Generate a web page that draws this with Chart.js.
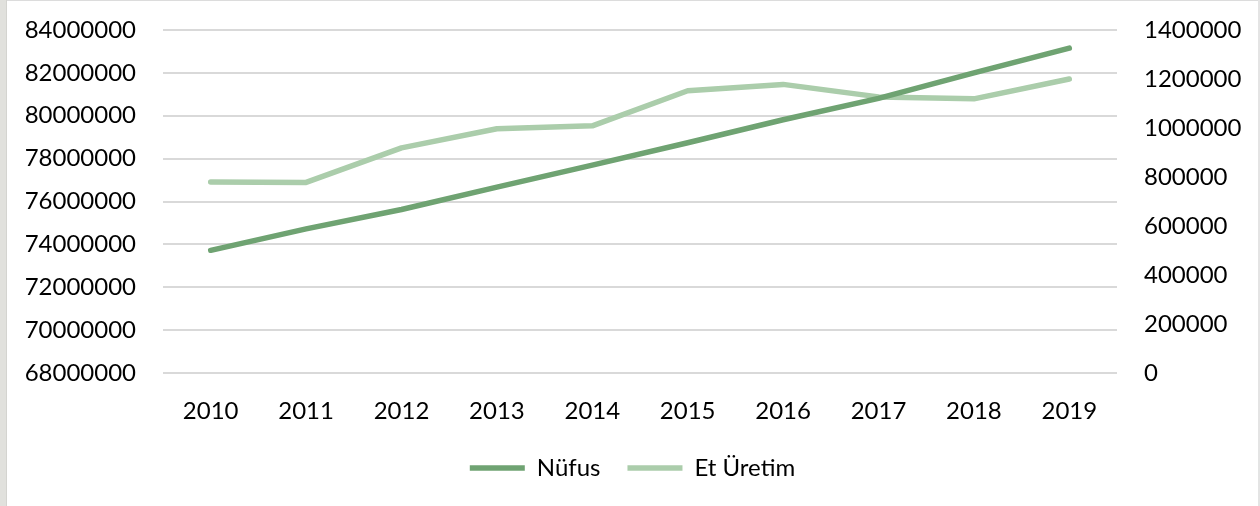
<!DOCTYPE html>
<html>
<head>
<meta charset="utf-8">
<script src="https://cdn.jsdelivr.net/npm/chart.js@4"></script>
<style>
html,body{margin:0;padding:0;background:#fff;}
body{width:1260px;height:506px;position:relative;overflow:hidden;}
#strip{position:absolute;left:0;top:0;width:6px;height:506px;background:#e1e1dd;border-right:1px solid #d4d4d0;}
#topline{position:absolute;left:7px;top:0;width:1253px;height:1px;background:#dcdcdc;}
#rightline{position:absolute;right:0;top:0;width:2px;height:506px;background:#e4e4e4;}
#wrap{position:absolute;left:7px;top:1px;width:1251px;height:505px;}
</style>
</head>
<body>
<div id="strip"></div><div id="topline"></div><div id="rightline"></div>
<div id="wrap"><canvas id="c"></canvas></div>
<script>
const years = ['2010','2011','2012','2013','2014','2015','2016','2017','2018','2019'];
const nufus = [73722988, 74724269, 75627384, 76667864, 77695904, 78741053, 79814871, 80810525, 82003882, 83154997];
const etUretim = [780000, 778000, 919000, 997000, 1009000, 1152000, 1178000, 1127000, 1119000, 1200000];
const leftTicks = [68000000, 84000000, 2000000];
const rightTicks = [0, 1400000, 200000];

const FONT = {family: 'Lato', size: 24};
Chart.defaults.font.family = 'Lato';
Chart.defaults.color = '#000';

function fixV(w) {
  return s => { s.width = w; s.paddingTop = 0; s.paddingBottom = 0; };
}

new Chart(document.getElementById('c'), {
  type: 'line',
  data: {
    labels: years,
    datasets: [
      {label: 'Nüfus', data: nufus, yAxisID: 'y', borderColor: '#6fa372', backgroundColor: '#6fa372',
       borderWidth: 5.5, pointRadius: 0, tension: 0, borderCapStyle: 'round', borderJoinStyle: 'round', pointStyle: 'line'},
      {label: 'Et Üretim', data: etUretim, yAxisID: 'y1', borderColor: '#abcdab', backgroundColor: '#abcdab',
       borderWidth: 5.5, pointRadius: 0, tension: 0, borderCapStyle: 'round', borderJoinStyle: 'round', pointStyle: 'line'}
    ]
  },
  options: {
    responsive: true,
    maintainAspectRatio: false,
    animation: false,
    layout: {padding: {top: 29, bottom: 16, left: 0, right: 0}},
    plugins: {
      tooltip: {enabled: false},
      legend: {
        position: 'bottom',
        labels: {font: FONT, usePointStyle: true, pointStyleWidth: 55, boxHeight: 24, padding: 27, color: '#000'}
      }
    },
    scales: {
      x: {
        offset: true,
        grid: {display: false, drawTicks: false},
        border: {display: false},
        ticks: {font: FONT, padding: 24, color: '#000', maxRotation: 0},
        afterFit: s => { s.height = 56; s.paddingLeft = 0; s.paddingRight = 0; }
      },
      y: {
        position: 'left',
        min: leftTicks[0], max: leftTicks[1],
        grid: {color: '#d9d9d9', lineWidth: 2, drawTicks: false},
        border: {display: false},
        ticks: {stepSize: leftTicks[2], font: FONT, padding: 27, color: '#000', callback: v => String(v)},
        afterFit: fixV(156)
      },
      y1: {
        position: 'right',
        min: rightTicks[0], max: rightTicks[1],
        grid: {display: false, drawTicks: false},
        border: {display: false},
        ticks: {stepSize: rightTicks[2], font: FONT, padding: 27, color: '#000', callback: v => String(v)},
        afterFit: fixV(141)
      }
    }
  }
});
</script>
</body>
</html>
